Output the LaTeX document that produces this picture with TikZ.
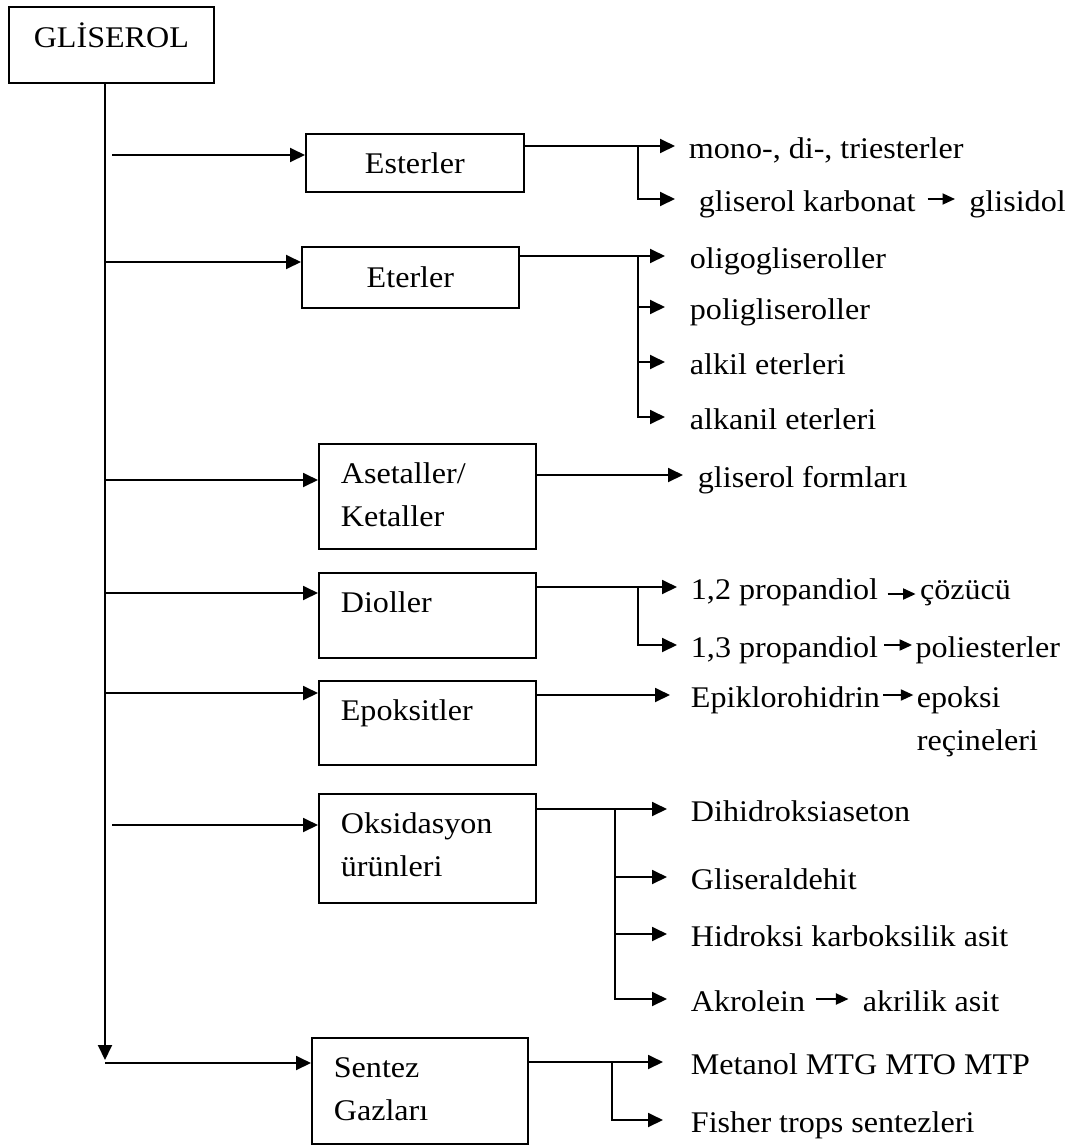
\documentclass[tikz,border=0pt]{standalone}
\usepackage{fontspec}
\setmainfont{Liberation Serif}[FakeStretch=1.07]
\usetikzlibrary{arrows.meta,positioning}

\begin{document}
\begin{tikzpicture}[->,>={Triangle[length=6pt,width=5.6pt]},line width=0.75pt,x=0.4pt,y=-0.4pt,
		font=\fontsize{12pt}{17.2pt}\selectfont,
		box/.style={draw,anchor=north west,inner xsep=8.8pt,inner ysep=0pt,line width=0.7pt},
		midbox/.style={box,align=center},
		leftbox/.style={box,text width=69.2pt,align=left,text height=16pt},
		item/.style={anchor=west,inner xsep=1pt,inner ysep=0pt,text height=11.6pt,text depth=2pt},
		inline/.style={-{Triangle[length=5pt,width=4.4pt]},line width=0.75pt}]
		\useasboundingbox (0,0) rectangle (1075,1147);
		% kutular
		\node[midbox,text width=64.4pt,text height=16.4pt,text depth=14pt] (glis) at (8,6) {GLİSEROL};
		\node[midbox,text width=69.6pt,text height=16pt,text depth=7.2pt] (ester) at (305,133) {Esterler};
		\node[midbox,text width=69.2pt,text height=16.4pt,text depth=8pt] (eter) at (301,246) {Eterler};
		\node[leftbox,text depth=26pt] (aset) at (318,443) {Asetaller/\\Ketaller};
		\node[leftbox,text depth=18pt] (diol) at (318,572) {Dioller};
		\node[leftbox,text depth=17.6pt] (epok) at (318,680) {Epoksitler};
		\node[leftbox,text depth=27.6pt] (oks) at (318,793) {Oksidasyon\\ürünleri};
		\node[leftbox,text width=68.8pt,text depth=26.4pt] (sent) at (311,1037) {Sentez\\Gazları};
		% ana hat
		\coordinate (trunk) at (105,1060);
		\coordinate (t1) at (112,155);
		\coordinate (t2) at (105,262);
		\coordinate (t3) at (105,480);
		\coordinate (t4) at (105,593);
		\coordinate (t5) at (105,693);
		\coordinate (t6) at (112,825);
		\coordinate (t7) at (105,1063);
		\draw (glis.south -| trunk) -- (trunk);
		\draw (t1) -- (t1 -| ester.west);
		\draw (t2) -- (t2 -| eter.west);
		\draw (t3) -- (t3 -| aset.west);
		\draw (t4) -- (t4 -| diol.west);
		\draw (t5) -- (t5 -| epok.west);
		\draw (t6) -- (t6 -| oks.west);
		\draw (t7) -- (t7 -| sent.west);
		% esterler
		\node[item] (mono) at (685.5,146) {mono-, di-, triesterler};
		\node[item] (gk) at (695.5,199) {gliserol karbonat};
		\node[item,right=18.8pt of gk] (gs) {glisidol};
		\coordinate (b1) at (638,146);
		\draw[shorten >=4.2pt] (ester.east |- mono) -- (mono);
		\draw[shorten >=8.2pt] (b1) |- (gk);
		\draw[inline,shorten <=3.4pt,shorten >=4.4pt] (gk) -- (gs);
		% eterler
		\node[item] (oligo) at (686.5,256) {oligogliseroller};
		\node[item] (poli) at (686.5,307) {poligliseroller};
		\node[item] (alkil) at (686.5,362) {alkil eterleri};
		\node[item] (alkanil) at (686.5,417) {alkanil eterleri};
		\coordinate (b2) at (638,256);
		\draw[shorten >=8.6pt] (eter.east |- oligo) -- (oligo);
		\draw[shorten >=8.6pt] (b2) |- (poli);
		\draw[shorten >=8.6pt] (b2) |- (alkil);
		\draw[shorten >=8.6pt] (b2) |- (alkanil);
		% asetaller
		\node[item] (form) at (694.5,475) {gliserol formları};
		\draw[shorten >=4.6pt] (aset.east |- form) -- (form);
		% dioller
		\node[item] (p12) at (687.5,587) {1,2 propandiol};
		\node[item,right=14pt of p12] (coz) {çözücü};
		\node[item] (p13) at (687.5,645) {1,3 propandiol};
		\node[item,right=12.2pt of p13] (pol) {poliesterler};
		\coordinate (b4) at (638,587);
		\draw[shorten >=4.2pt] (diol.east |- p12) -- (p12);
		\draw[shorten >=4.2pt] (b4) |- (p13);
		\draw[inline,shorten <=2.4pt,shorten >=0.4pt] ([yshift=-2.8pt]p12.east) -- ([yshift=-2.8pt]coz.west);
		\draw[inline,shorten <=1pt] (p13) -- (pol);
		% epoksitler
		\node[item] (epik) at (687.5,695) {Epiklorohidrin};
		\node[item,right=12pt of epik] (epo) {epoksi};
		\node[item] (rec) at ([yshift=-17.2pt]epo.west) {reçineleri};
		\draw[shorten >=7pt] (epok.east |- epik) -- (epik);
		\draw[inline] (epik) -- (epo);
		% oksidasyon
		\node[item] (dih) at (687.5,809) {Dihidroksiaseton};
		\node[item] (glal) at (687.5,877) {Gliseraldehit};
		\node[item] (hks) at (687.5,934) {Hidroksi karboksilik asit};
		\node[item] (akr) at (687.5,999) {Akrolein};
		\node[item,right=20.4pt of akr] (akas) {akrilik asit};
		\coordinate (b6) at (615,809);
		\draw[shorten >=8.2pt] (oks.east |- dih) -- (dih);
		\draw[shorten >=8.2pt] (b6) |- (glal);
		\draw[shorten >=8.2pt] (b6) |- (hks);
		\draw[shorten >=8.2pt] (b6) |- (akr);
		\draw[inline,shorten <=3pt,shorten >=4.4pt] (akr) -- (akas);
		% sentez gazlari
		\node[item] (met) at (687.5,1062) {Metanol MTG MTO MTP};
		\node[item] (fis) at (687.5,1120) {Fisher trops sentezleri};
		\coordinate (b7) at (612,1062);
		\draw[shorten >=9.8pt] (sent.east |- met) -- (met);
		\draw[shorten >=9.8pt] (b7) |- (fis);
\end{tikzpicture}
\end{document}
